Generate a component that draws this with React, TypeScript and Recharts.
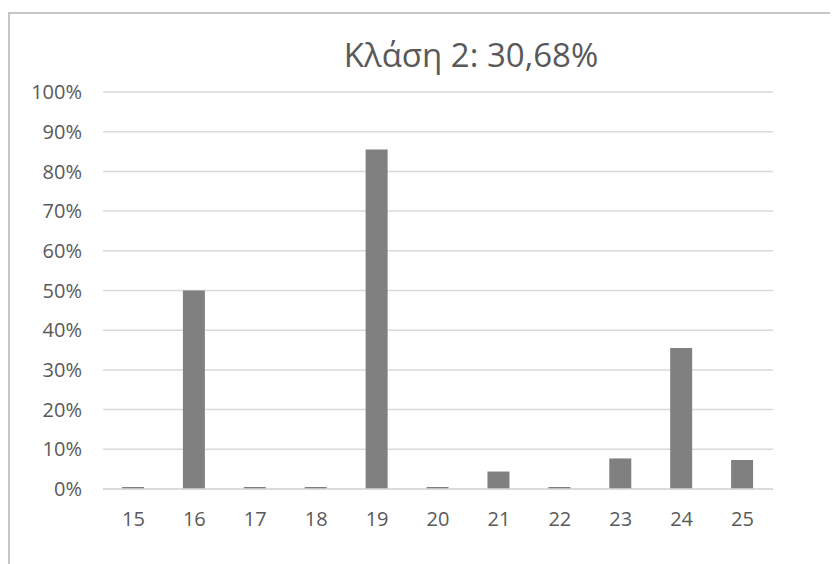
import { BarChart, Bar, XAxis, YAxis, CartesianGrid } from 'recharts'

const title = 'Κλάση 2: 30,68%'
const ages = ['15', '16', '17', '18', '19', '20', '21', '22', '23', '24', '25']
const shares = [0, 50, 0, 0, 85.5, 0, 4.4, 0, 7.7, 35.5, 7.3]
const yTicks = [0, 10, 20, 30, 40, 50, 60, 70, 80, 90, 100]

const data = ages.map((a, i) => ({ age: a, share: shares[i] }))

const font = '"Open Sans", "Noto Sans", sans-serif'
const tick = { fill: '#595959', fontSize: 20, fontFamily: font }

export default function App() {
  return (
    <div style={{ position: 'relative', width: 830, height: 556, overflow: 'hidden', background: '#fff' }}>
      <div style={{ position: 'absolute', left: 0, top: 4, width: 900, height: 600, borderLeft: '2px solid #c6c6c6', borderTop: '2px solid #c6c6c6', boxSizing: 'border-box' }} />
      <div style={{ position: 'absolute', left: 0, width: 926, top: 30, textAlign: 'center', fontFamily: font, fontSize: 33, lineHeight: '33px', color: '#595959' }}>
        {title}
      </div>
      <div style={{ position: 'absolute', left: 0, top: 0 }}>
        <BarChart width={830} height={556} data={data} margin={{ top: 84, right: 65, bottom: 40, left: 0 }}>
          <CartesianGrid vertical={false} stroke="#d9d9d9" strokeWidth={1.5} />
          <XAxis dataKey="age" tick={tick} tickLine={false} tickSize={0} tickMargin={23} axisLine={{ stroke: '#d9d9d9', strokeWidth: 1.5 }} height={35} />
          <YAxis domain={[0, 100]} ticks={yTicks} interval={0} tickFormatter={(v: number) => `${v}%`} tick={tick} tickLine={false} axisLine={false} tickSize={0} tickMargin={21} width={95} />
          <Bar dataKey="share" fill="#808080" barSize={22} minPointSize={2} isAnimationActive={false} />
        </BarChart>
      </div>
    </div>
  )
}
